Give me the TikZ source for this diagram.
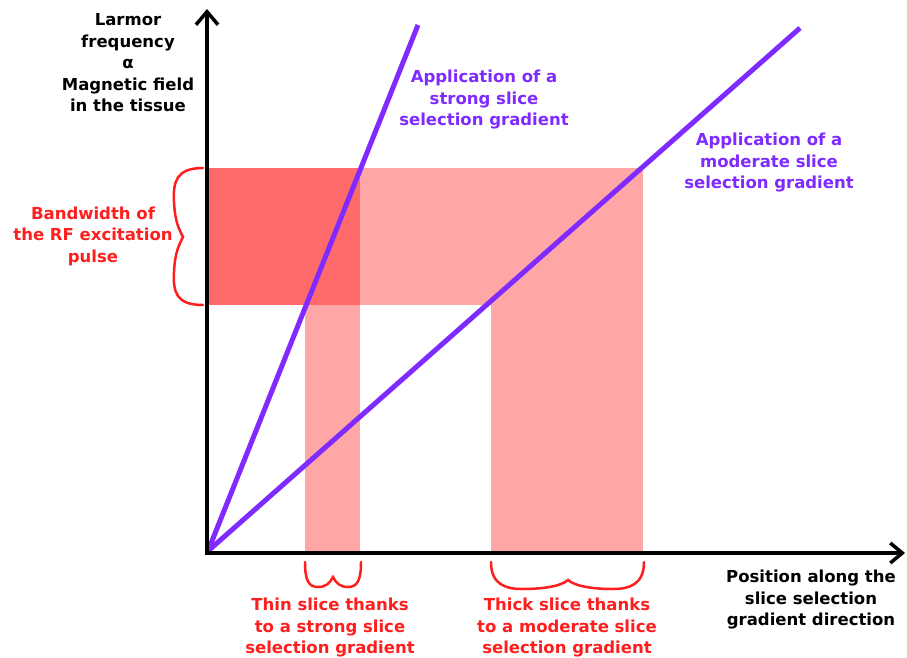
\documentclass[tikz,border=0pt]{standalone}
\usepackage{fontspec}
\setmainfont{DejaVu Sans}
\usetikzlibrary{arrows.meta}
\definecolor{purp}{RGB}{127,42,255}
\definecolor{redt}{RGB}{255,30,30}
\definecolor{pinkl}{RGB}{255,166,166}
\definecolor{pinkd}{RGB}{255,107,107}
\begin{document}
\begin{tikzpicture}[x=1pt,y=-1pt,
  lbl/.style={align=center,font=\bfseries\fontsize{16.5}{21.5}\selectfont,inner sep=0pt},
  axisline/.style={line width=4pt,line join=miter,{Straight Barb[length=13pt,width=22pt,line width=3.5pt]}-{Straight Barb[length=12pt,width=20pt,line width=3.5pt]}},
  grad/.style={line width=5pt,purp},
  brace/.style={redt,line width=2.5pt,line cap=round}]
\useasboundingbox (0,0) rectangle (907,658);
% bands
\fill[pinkl] (208,168) rectangle (643,305);
\fill[pinkd] (208,168) rectangle (360,305);
\fill[pinkl] (305,305) rectangle (360,553);
\fill[pinkl] (491,305) rectangle (643,553);
% gradient lines
\coordinate (O) at (208,551);
\coordinate (S) at (418,25);
\coordinate (M) at (800,28);
\draw[grad] (O) -- (S);
\draw[grad] (O) -- (M);
% axes
\coordinate (Ytip) at (207,9);
\coordinate (C) at (207,553);
\coordinate (Xtip) at (905,553);
\draw[axisline] (Ytip) -- (C) -- (Xtip);
% braces
\draw[brace] (203,168) .. controls (176,168) and (173,182) .. (174,202)
  .. controls (175,222) and (179,229) .. (183,237)
  .. controls (179,245) and (175,252) .. (174,272)
  .. controls (173,292) and (176,305) .. (203,305);
\draw[brace] (305,562) .. controls (305,581) and (309,587) .. (318,587)
  .. controls (326,587) and (330,583) .. (333,577)
  .. controls (336,583) and (340,587) .. (348,587)
  .. controls (357,587) and (361,581) .. (361,562);
\draw[brace] (491,562) .. controls (491,584) and (505,589) .. (522,589)
  .. controls (540,589) and (560,587) .. (568,580)
  .. controls (576,587) and (596,589) .. (613,589)
  .. controls (630,589) and (644,584) .. (644,562);
% labels
\node[lbl] (yl) at (128,63) {Larmor\\frequency\\α\\Magnetic field\\in the tissue};
\node[lbl,text=purp] (sl) at (484,100) {Application of a\\strong slice\\selection gradient};
\node[lbl,text=purp] (ml) at (769,163) {Application of a\\moderate slice\\selection gradient};
\node[lbl,text=redt] (bw) at (93,236) {Bandwidth of\\the RF excitation\\pulse};
\node[lbl,text=redt] (thin) at (330,628) {Thin slice thanks\\to a strong slice\\selection gradient};
\node[lbl,text=redt] (thick) at (567,628) {Thick slice thanks\\to a moderate slice\\selection gradient};
\node[lbl] (xl) at (811,600) {Position along the\\slice selection\\gradient direction};
\end{tikzpicture}
\end{document}
